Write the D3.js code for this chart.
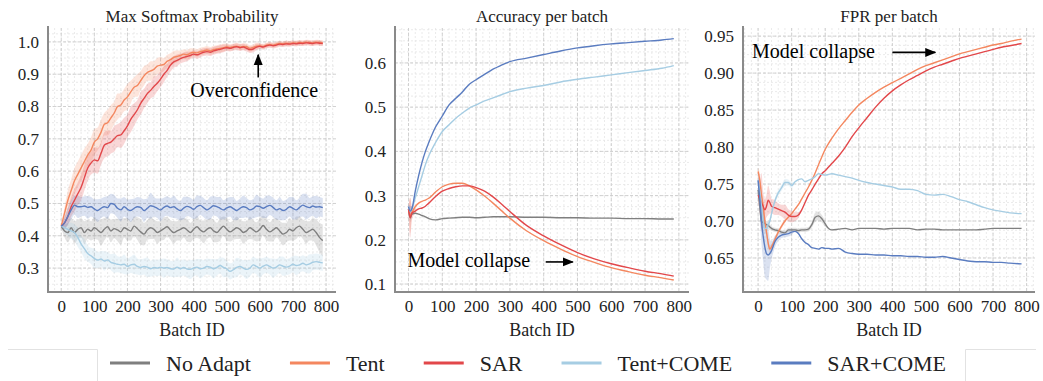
<!DOCTYPE html>
<html>
<head>
<meta charset="utf-8">
<script src="https://cdn.jsdelivr.net/npm/d3@7"></script>
<style>
body { margin: 0; background: #fff; }
svg text { font-family: "Liberation Serif", "DejaVu Serif", "Times New Roman", serif !important; }
</style>
</head>
<body>
<svg id="chart" width="1043" height="381"></svg>
<script>
//series names and colours
const seriesNames = ['No Adapt', 'Tent', 'SAR', 'Tent+COME', 'SAR+COME'];
const seriesColors = ['#7f7f7f', '#f4875f', '#e2474a', '#a6cde3', '#5a7cc0'];

//panel 1 : max softmax probability
const mspBatch = [0,10,20,30,40,50,60,70,80,90,100,110,120,130,140,150,160,170,180,190,
	200,210,220,230,240,250,260,270,280,290,300,310,320,330,340,350,360,370,380,390,
	400,410,420,430,440,450,460,470,480,490,500,510,520,530,540,550,560,570,580,590,
	600,610,620,630,640,650,660,670,680,690,700,710,720,730,740,750,760,770,780,790];
const mspNoAdapt = [0.43,0.415,0.41,0.425,0.41,0.42,0.425,0.41,0.42,0.415,
	0.425,0.418,0.41,0.42,0.428,0.415,0.422,0.418,0.412,0.425,
	0.42,0.415,0.43,0.422,0.412,0.405,0.418,0.425,0.42,0.41,
	0.415,0.422,0.428,0.418,0.41,0.415,0.42,0.425,0.418,0.41,
	0.42,0.428,0.418,0.412,0.42,0.425,0.415,0.41,0.42,0.43,
	0.42,0.412,0.418,0.425,0.42,0.41,0.415,0.425,0.418,0.412,
	0.42,0.432,0.42,0.412,0.418,0.425,0.415,0.405,0.41,0.42,
	0.415,0.425,0.43,0.42,0.41,0.415,0.42,0.41,0.395,0.385];
const mspTent = [0.43,0.47,0.51,0.54,0.57,0.59,0.61,0.63,0.65,0.665,
	0.69,0.70,0.72,0.745,0.75,0.765,0.78,0.80,0.805,0.82,
	0.83,0.845,0.86,0.865,0.88,0.895,0.905,0.91,0.915,0.925,
	0.928,0.93,0.94,0.945,0.952,0.955,0.958,0.962,0.96,0.965,
	0.968,0.966,0.97,0.972,0.975,0.972,0.976,0.978,0.98,0.982,
	0.985,0.983,0.985,0.987,0.984,0.986,0.985,0.98,0.983,0.987,
	0.988,0.986,0.99,0.992,0.99,0.993,0.995,0.994,0.996,0.995,
	0.997,0.996,0.998,0.997,0.999,0.998,0.997,0.999,0.998,0.997];
const mspSar = [0.43,0.44,0.46,0.49,0.51,0.53,0.55,0.58,0.61,0.625,
	0.635,0.632,0.655,0.68,0.686,0.69,0.70,0.71,0.712,0.725,
	0.74,0.76,0.775,0.79,0.81,0.825,0.84,0.85,0.862,0.872,
	0.885,0.90,0.912,0.928,0.938,0.943,0.948,0.952,0.955,0.958,
	0.962,0.96,0.964,0.968,0.97,0.968,0.972,0.975,0.977,0.98,
	0.982,0.98,0.983,0.985,0.982,0.984,0.98,0.976,0.978,0.984,
	0.986,0.984,0.988,0.99,0.988,0.99,0.993,0.992,0.994,0.993,
	0.995,0.994,0.996,0.995,0.997,0.996,0.995,0.997,0.996,0.995];
const mspTentCome = [0.43,0.425,0.42,0.415,0.41,0.395,0.375,0.36,0.345,0.338,
	0.33,0.325,0.328,0.322,0.325,0.318,0.315,0.312,0.31,0.312,
	0.305,0.31,0.312,0.305,0.302,0.305,0.303,0.298,0.302,0.30,
	0.303,0.30,0.302,0.298,0.297,0.303,0.298,0.302,0.297,0.296,
	0.30,0.303,0.298,0.30,0.305,0.303,0.298,0.302,0.308,0.302,
	0.298,0.29,0.295,0.302,0.305,0.30,0.296,0.30,0.31,0.305,
	0.30,0.306,0.31,0.305,0.30,0.303,0.31,0.306,0.303,0.306,
	0.312,0.308,0.31,0.315,0.31,0.313,0.318,0.32,0.318,0.316];
const mspSarCome = [0.43,0.44,0.46,0.48,0.495,0.49,0.49,0.492,0.488,0.49,
	0.483,0.478,0.485,0.49,0.487,0.50,0.497,0.485,0.48,0.49,
	0.482,0.478,0.485,0.49,0.488,0.478,0.485,0.493,0.49,0.485,
	0.48,0.488,0.492,0.487,0.49,0.483,0.478,0.486,0.491,0.488,
	0.482,0.49,0.494,0.487,0.48,0.486,0.493,0.49,0.485,0.48,
	0.486,0.49,0.484,0.478,0.485,0.49,0.487,0.48,0.484,0.492,
	0.49,0.485,0.49,0.494,0.488,0.48,0.484,0.478,0.482,0.49,
	0.485,0.48,0.488,0.495,0.49,0.487,0.492,0.489,0.49,0.487];
//half widths of the shaded bands
const mspNoAdaptBand = [0.005,0.02,0.03,0.03,0.035,0.03,0.03,0.035,0.03,0.03,
	0.035,0.03,0.04,0.035,0.03,0.035,0.03,0.035,0.04,0.03,
	0.035,0.03,0.03,0.035,0.04,0.035,0.03,0.035,0.03,0.035,
	0.03,0.035,0.03,0.03,0.035,0.03,0.035,0.03,0.035,0.03,
	0.03,0.035,0.03,0.035,0.03,0.03,0.035,0.03,0.035,0.03,
	0.035,0.03,0.03,0.035,0.03,0.035,0.03,0.035,0.03,0.03,
	0.035,0.03,0.035,0.03,0.035,0.03,0.03,0.035,0.03,0.035,
	0.03,0.035,0.03,0.03,0.035,0.03,0.035,0.04,0.045,0.05];
const mspTentBand = [0.005,0.02,0.03,0.035,0.04,0.04,0.04,0.04,0.035,0.04,
	0.04,0.035,0.04,0.035,0.04,0.04,0.035,0.04,0.035,0.035,
	0.04,0.035,0.03,0.035,0.03,0.03,0.025,0.03,0.025,0.025,
	0.025,0.02,0.02,0.02,0.02,0.018,0.015,0.015,0.015,0.015,
	0.012,0.012,0.012,0.012,0.012,0.012,0.012,0.012,0.012,0.012,
	0.01,0.01,0.01,0.01,0.01,0.01,0.01,0.01,0.01,0.01,
	0.008,0.008,0.008,0.008,0.008,0.008,0.008,0.008,0.008,0.008,
	0.008,0.008,0.008,0.008,0.008,0.008,0.008,0.008,0.008,0.008];
const mspSarBand = [0.005,0.015,0.025,0.03,0.035,0.035,0.04,0.04,0.04,0.035,
	0.04,0.04,0.035,0.04,0.04,0.035,0.04,0.035,0.04,0.04,
	0.035,0.04,0.035,0.03,0.035,0.03,0.03,0.025,0.03,0.025,
	0.025,0.025,0.02,0.02,0.018,0.018,0.015,0.015,0.015,0.012,
	0.012,0.012,0.012,0.012,0.012,0.012,0.012,0.012,0.012,0.012,
	0.01,0.01,0.01,0.01,0.01,0.01,0.01,0.01,0.01,0.01,
	0.008,0.008,0.008,0.008,0.008,0.008,0.008,0.008,0.008,0.008,
	0.008,0.008,0.008,0.008,0.008,0.008,0.008,0.008,0.008,0.008];
const mspTentComeBand = [0.005,0.015,0.02,0.025,0.025,0.03,0.025,0.03,0.025,0.025,
	0.03,0.025,0.025,0.03,0.025,0.025,0.03,0.025,0.025,0.03,
	0.025,0.025,0.03,0.025,0.025,0.025,0.03,0.025,0.025,0.025,
	0.025,0.03,0.025,0.025,0.025,0.03,0.025,0.025,0.025,0.03,
	0.025,0.025,0.03,0.025,0.025,0.025,0.03,0.025,0.025,0.03,
	0.025,0.025,0.025,0.03,0.025,0.025,0.03,0.025,0.025,0.025,
	0.03,0.025,0.025,0.025,0.03,0.025,0.025,0.03,0.025,0.025,
	0.025,0.03,0.025,0.025,0.025,0.03,0.025,0.025,0.025,0.025];
const mspSarComeBand = [0.005,0.02,0.025,0.03,0.03,0.035,0.03,0.03,0.035,0.03,
	0.03,0.035,0.03,0.03,0.035,0.03,0.03,0.03,0.035,0.03,
	0.03,0.035,0.03,0.03,0.03,0.035,0.03,0.04,0.03,0.03,
	0.035,0.03,0.03,0.03,0.035,0.03,0.03,0.035,0.03,0.03,
	0.03,0.035,0.03,0.03,0.03,0.035,0.03,0.03,0.035,0.03,
	0.03,0.03,0.035,0.03,0.03,0.035,0.03,0.03,0.03,0.035,
	0.03,0.03,0.035,0.03,0.03,0.03,0.035,0.03,0.03,0.03,
	0.035,0.03,0.03,0.035,0.04,0.03,0.03,0.035,0.03,0.03];

//panel 2 : accuracy per batch
const accBatch = [0,5,10,20,30,40,50,60,80,100,120,140,160,180,200,225,250,275,300,350,400,450,500,550,600,650,700,750,785];
const accNoAdapt = [0.27,0.25,0.258,0.26,0.258,0.255,0.252,0.248,0.245,0.248,0.249,0.25,0.251,0.251,0.25,0.251,0.252,0.252,0.252,0.251,0.251,0.25,0.25,0.249,0.249,0.248,0.248,0.247,0.247];
const accTent = [0.27,0.255,0.262,0.275,0.283,0.287,0.29,0.294,0.308,0.32,0.326,0.328,0.328,0.322,0.313,0.299,0.283,0.266,0.249,0.22,0.198,0.179,0.162,0.149,0.137,0.128,0.12,0.114,0.109];
const accSar = [0.27,0.25,0.26,0.265,0.27,0.272,0.276,0.283,0.298,0.31,0.316,0.32,0.322,0.322,0.318,0.31,0.297,0.281,0.264,0.232,0.209,0.189,0.171,0.157,0.146,0.137,0.129,0.123,0.118];
const accTentCome = [0.275,0.265,0.27,0.295,0.32,0.345,0.37,0.39,0.42,0.445,0.46,0.475,0.487,0.498,0.505,0.514,0.521,0.528,0.535,0.543,0.549,0.557,0.563,0.568,0.573,0.578,0.583,0.588,0.594];
const accSarCome = [0.275,0.265,0.27,0.31,0.345,0.375,0.40,0.42,0.455,0.48,0.505,0.52,0.535,0.552,0.562,0.574,0.586,0.595,0.603,0.611,0.619,0.627,0.634,0.639,0.643,0.646,0.649,0.652,0.655];
const accNoAdaptBand = [0.005,0.01,0.005];
const accTentBand = [0.005,0.04,0.01,0.005];
const accSarBand = [0.005,0.045,0.015,0.005];
const accTentComeBand = [0.005,0.01,0.005];
const accSarComeBand = [0.005,0.012,0.005];

//panel 3 : FPR per batch
const fprBatch = [0,5,10,15,20,25,30,35,40,50,60,70,80,90,100,110,120,130,140,150,160,170,180,190,200,
	210,220,240,260,280,300,325,350,375,400,425,450,475,500,525,550,575,600,625,650,675,700,725,750,785];
const fprNoAdapt = [0.742,0.72,0.70,0.698,0.697,0.695,0.694,0.692,0.69,0.688,0.687,0.685,0.684,0.688,0.688,0.688,0.687,0.688,0.688,0.689,0.695,0.705,0.707,0.703,0.696,
	0.69,0.688,0.689,0.69,0.688,0.69,0.69,0.69,0.689,0.69,0.69,0.69,0.688,0.689,0.689,0.688,0.688,0.688,0.688,0.688,0.689,0.69,0.69,0.69,0.69];
const fprTent = [0.767,0.755,0.735,0.72,0.70,0.685,0.67,0.662,0.665,0.675,0.685,0.693,0.70,0.705,0.71,0.716,0.722,0.73,0.738,0.746,0.755,0.765,0.776,0.787,0.797,
	0.805,0.812,0.825,0.836,0.847,0.857,0.866,0.874,0.881,0.887,0.893,0.899,0.905,0.91,0.914,0.918,0.922,0.926,0.929,0.932,0.935,0.938,0.94,0.943,0.946];
const fprSar = [0.735,0.73,0.725,0.72,0.715,0.72,0.728,0.725,0.72,0.718,0.716,0.714,0.712,0.708,0.706,0.706,0.708,0.715,0.725,0.735,0.742,0.75,0.757,0.764,0.768,
	0.773,0.778,0.788,0.80,0.814,0.826,0.84,0.854,0.866,0.876,0.884,0.891,0.897,0.903,0.908,0.912,0.916,0.92,0.923,0.926,0.929,0.932,0.935,0.937,0.94];
const fprTentCome = [0.755,0.74,0.72,0.70,0.69,0.69,0.695,0.70,0.71,0.727,0.738,0.745,0.752,0.752,0.748,0.753,0.756,0.757,0.753,0.755,0.757,0.76,0.764,0.763,0.762,
	0.763,0.764,0.762,0.76,0.758,0.755,0.752,0.75,0.748,0.746,0.743,0.743,0.741,0.736,0.735,0.736,0.733,0.729,0.726,0.722,0.718,0.715,0.713,0.711,0.71];
const fprSarCome = [0.755,0.73,0.70,0.68,0.665,0.656,0.654,0.656,0.66,0.672,0.678,0.681,0.682,0.683,0.685,0.686,0.683,0.676,0.671,0.668,0.664,0.663,0.662,0.664,0.663,
	0.663,0.662,0.663,0.658,0.656,0.655,0.655,0.654,0.654,0.653,0.653,0.652,0.652,0.651,0.651,0.652,0.65,0.648,0.646,0.645,0.645,0.644,0.644,0.643,0.642];
const fprNoAdaptBand = [0.005,0.01,0.01,0.008,0.005,0.005,0.005,0.004,0.003,0.003,0.003,0.003,0.003,0.003,0.003,0.003,0.003,0.003,0.003,0.003,0.004,0.006,0.006,0.005,0.004];
const fprTentBand = [0.005,0.01,0.012,0.01,0.008,0.008,0.006,0.005,0.004,0.004,0.003,0.003,0.003];
const fprSarBand = [0.01,0.02,0.04,0.02,0.015,0.015,0.02,0.015,0.01,0.01,0.008,0.008,0.01,0.008,0.008,0.006,0.004];
const fprTentComeBand = [0.005,0.01,0.01,0.01,0.008,0.006,0.005,0.004,0.004,0.004,0.004,0.004,0.005,0.004,0.004];
const fprSarComeBand = [0.01,0.02,0.03,0.035,0.04,0.035,0.035,0.02,0.012,0.008,0.005,0.004,0.004,0.004,0.004];

//tick labels
const batchTicks = [0, 100, 200, 300, 400, 500, 600, 700, 800];
const mspTicks = [0.3, 0.4, 0.5, 0.6, 0.7, 0.8, 0.9, 1.0];
const accTicks = [0.1, 0.2, 0.3, 0.4, 0.5, 0.6];
const fprTicks = [0.65, 0.70, 0.75, 0.80, 0.85, 0.90, 0.95];

//layout
const plotTop = 28;
const plotBottom = 292;
const serif = '"Liberation Serif", "DejaVu Serif", serif';

const panels = [
	{title: 'Max Softmax Probability', left: 48, right: 336, xDomain: [-40, 830], yDomain: [0.226, 1.043],
		yTicks: mspTicks, yMinor: 0.025, fmt: '.1f', batch: mspBatch,
		values: [mspNoAdapt, mspTent, mspSar, mspTentCome, mspSarCome],
		bands: [mspNoAdaptBand, mspTentBand, mspSarBand, mspTentComeBand, mspSarComeBand]},
	{title: 'Accuracy per batch', left: 395, right: 689, xDomain: [-40, 830], yDomain: [0.082, 0.679],
		yTicks: accTicks, yMinor: 0.025, fmt: '.1f', batch: accBatch,
		values: [accNoAdapt, accTent, accSar, accTentCome, accSarCome],
		bands: [accNoAdaptBand, accTentBand, accSarBand, accTentComeBand, accSarComeBand]},
	{title: 'FPR per batch', left: 743, right: 1035, xDomain: [-45, 825], yDomain: [0.604, 0.961],
		yTicks: fprTicks, yMinor: 0.0125, fmt: '.2f', batch: fprBatch,
		values: [fprNoAdapt, fprTent, fprSar, fprTentCome, fprSarCome],
		bands: [fprNoAdaptBand, fprTentBand, fprSarBand, fprTentComeBand, fprSarComeBand]}
];

const svg = d3.select('#chart')
	.attr('font-family', serif);
svg.append('rect').attr('width', 1043).attr('height', 381).attr('fill', '#fff');

//arrow head
svg.append('defs').append('marker')
	.attr('id', 'arrow')
	.attr('viewBox', '0 0 10 10')
	.attr('refX', 9).attr('refY', 5)
	.attr('markerWidth', 7).attr('markerHeight', 7)
	.attr('orient', 'auto')
	.append('path')
		.attr('d', 'M0,1 L10,5 L0,9 Z')
		.attr('fill', '#000');

panels.forEach((p, pi) => {
	const x = d3.scaleLinear().domain(p.xDomain).range([p.left, p.right]);
	const y = d3.scaleLinear().domain(p.yDomain).range([plotBottom, plotTop]);
	const g = svg.append('g');

	//minor grid
	const xMinor = d3.range(-40, 830, 20);
	const yMinor = d3.range(Math.ceil(p.yDomain[0] / p.yMinor) * p.yMinor, p.yDomain[1], p.yMinor);
	g.selectAll('.vminor').data(xMinor).enter().append('line')
		.attr('x1', d => x(d)).attr('x2', d => x(d))
		.attr('y1', plotTop).attr('y2', plotBottom)
		.attr('stroke', '#e4e4e4').attr('stroke-width', 0.8).attr('stroke-dasharray', '2,2');
	g.selectAll('.hminor').data(yMinor).enter().append('line')
		.attr('x1', p.left).attr('x2', p.right)
		.attr('y1', d => y(d)).attr('y2', d => y(d))
		.attr('stroke', '#e4e4e4').attr('stroke-width', 0.8).attr('stroke-dasharray', '2,2');
	//major grid
	g.selectAll('.vmajor').data(batchTicks).enter().append('line')
		.attr('x1', d => x(d)).attr('x2', d => x(d))
		.attr('y1', plotTop).attr('y2', plotBottom)
		.attr('stroke', '#cccccc').attr('stroke-width', 0.9).attr('stroke-dasharray', '3,2');
	g.selectAll('.hmajor').data(p.yTicks).enter().append('line')
		.attr('x1', p.left).attr('x2', p.right)
		.attr('y1', d => y(d)).attr('y2', d => y(d))
		.attr('stroke', '#cccccc').attr('stroke-width', 0.9).attr('stroke-dasharray', '3,2');

	//bands
	p.values.forEach((vals, si) => {
		const band = p.bands[si];
		const area = d3.area()
			.x((d, j) => x(p.batch[j]))
			.y0((d, j) => y(d - (band[j] || 0)))
			.y1((d, j) => y(d + (band[j] || 0)))
			.curve(d3.curveMonotoneX);
		g.append('path')
			.datum(vals)
			.attr('d', area)
			.attr('fill', seriesColors[si])
			.attr('fill-opacity', 0.22);
	});

	//lines
	p.values.forEach((vals, si) => {
		const line = d3.line()
			.x((d, j) => x(p.batch[j]))
			.y(d => y(d))
			.curve(d3.curveMonotoneX);
		g.append('path')
			.datum(vals)
			.attr('d', line)
			.attr('fill', 'none')
			.attr('stroke', seriesColors[si])
			.attr('stroke-width', 1.4);
	});

	//axes
	const yAxis = g.append('g')
		.attr('transform', `translate(${p.left},0)`)
		.call(d3.axisLeft(y).tickValues(p.yTicks).tickFormat(d3.format(p.fmt)).tickSize(0).tickPadding(9));
	const xAxis = g.append('g')
		.attr('transform', `translate(0,${plotBottom})`)
		.call(d3.axisBottom(x).tickValues(batchTicks).tickSize(0).tickPadding(8));
	[yAxis, xAxis].forEach(a => {
		a.attr('font-family', serif).attr('font-size', 17);
		a.select('.domain').remove();
		a.selectAll('text').attr('fill', '#222');
	});

	//spines
	g.append('line')
		.attr('x1', p.left).attr('x2', p.left)
		.attr('y1', plotTop - 2).attr('y2', plotBottom + 1)
		.attr('stroke', '#8a8a8a').attr('stroke-width', 2);
	g.append('line')
		.attr('x1', p.left - 1).attr('x2', p.right)
		.attr('y1', plotBottom).attr('y2', plotBottom)
		.attr('stroke', '#8a8a8a').attr('stroke-width', 2);

	//title and x label
	g.append('text')
		.attr('x', (p.left + p.right) / 2).attr('y', 22)
		.attr('text-anchor', 'middle')
		.attr('font-size', 17).attr('fill', '#222')
		.text(p.title);
	g.append('text')
		.attr('x', (p.left + p.right) / 2).attr('y', 336)
		.attr('text-anchor', 'middle')
		.attr('font-size', 18).attr('fill', '#222')
		.text('Batch ID');

	//annotations
	if (pi === 0) {
		g.append('text').attr('x', x(390)).attr('y', y(0.83))
			.attr('font-size', 20).attr('fill', '#000').text('Overconfidence');
		g.append('line')
			.attr('x1', x(595)).attr('x2', x(595))
			.attr('y1', y(0.89)).attr('y2', y(0.96))
			.attr('stroke', '#000').attr('stroke-width', 1.6)
			.attr('marker-end', 'url(#arrow)');
	} else {
		const ann = pi === 1 ? {tx: -3, ty: 0.138, a0: 406, a1: 486, ay: 0.15}
			: {tx: -18, ty: 0.92, a0: 400, a1: 528, ay: 0.928};
		g.append('text').attr('x', x(ann.tx)).attr('y', y(ann.ty))
			.attr('font-size', 20).attr('fill', '#000').text('Model collapse');
		g.append('line')
			.attr('x1', x(ann.a0)).attr('x2', x(ann.a1))
			.attr('y1', y(ann.ay)).attr('y2', y(ann.ay))
			.attr('stroke', '#000').attr('stroke-width', 1.6)
			.attr('marker-end', 'url(#arrow)');
	}
});

//legend frame
const frame = svg.append('g').attr('stroke', '#e2e2e2').attr('stroke-width', 1).attr('fill', 'none');
frame.append('path').attr('d', 'M8,349.5 H97.5 V381');
frame.append('path').attr('d', 'M1036,349.5 H965.5 V381');

//legend
const legend = svg.append('g');
let lx = 110;
seriesNames.forEach((name, i) => {
	legend.append('line')
		.attr('x1', lx).attr('x2', lx + 40)
		.attr('y1', 363).attr('y2', 363)
		.attr('stroke', seriesColors[i])
		.attr('stroke-width', 3);
	const t = legend.append('text')
		.attr('x', lx + 56).attr('y', 371)
		.attr('font-size', 22).attr('fill', '#222')
		.text(name);
	lx += 56 + t.node().getComputedTextLength() + 39;
});
</script>
</body>
</html>
